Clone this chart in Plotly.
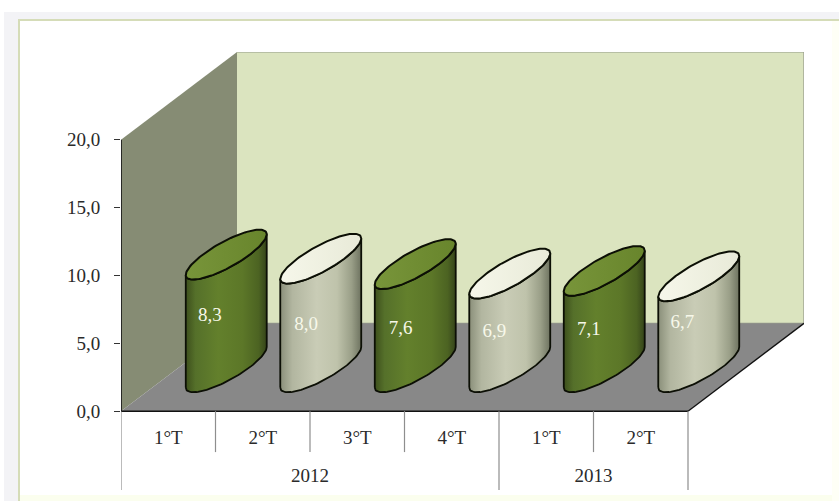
import numpy as np
import plotly.graph_objects as go

years = ["2012", "2012", "2012", "2012", "2013", "2013"]
quarters = ["1°T", "2°T", "3°T", "4°T", "1°T", "2°T"]
values = [8.3, 8.0, 7.6, 6.9, 7.1, 6.7]
y_ticks = [0, 5, 10, 15, 20]

W, H = 839, 501
PX_CAT, PX_VAL = 94.5, 13.6
DEPTH_X, DEPTH_Y = 116 / PX_CAT, 88 / PX_VAL
X_MIN, X_MAX = -0.5, 5.5
Y_MAX = 20
SHORT_DIV, LONG_DIV = -41 / PX_VAL, -79 / PX_VAL

# label placement (category offset, height on the value scale)
label_dx = [0.44, 0.46, 0.46, 0.45, 0.45, 0.44]
label_y = [6.98, 6.30, 6.05, 5.85, 6.0, 6.45]


def proj(cat, depth, val):
    return cat + np.asarray(depth) * DEPTH_X, val + np.asarray(depth) * DEPTH_Y


def poly(name, cats, depths, vals, fill, line=None, lw=0):
    xs, ys = [], []
    for c, d, v in zip(cats, depths, vals):
        a, b = proj(c, d, v)
        xs.append(float(a)); ys.append(float(b))
    return go.Scatter(x=xs, y=ys, mode="lines", fill="toself" if fill else None,
                      fillcolor=fill, line=dict(color=line or "rgba(0,0,0,0)", width=lw),
                      showlegend=False, hoverinfo="skip", name=name)


fig = go.Figure()
fig.add_trace(poly("back", [X_MIN, X_MAX, X_MAX, X_MIN], [1, 1, 1, 1], [0, 0, Y_MAX, Y_MAX], "#dbe4bf", "#94998a", 1.2))
fig.add_trace(poly("side", [X_MIN, X_MIN, X_MIN, X_MIN], [0, 1, 1, 0], [0, 0, Y_MAX, Y_MAX], "#868c74"))
fig.add_trace(poly("floor", [X_MIN, X_MAX, X_MAX, X_MIN], [0, 0, 1, 1], [0, 0, 0, 0], "#888888"))
fig.add_trace(poly("edge", [X_MAX, X_MAX], [0, 1], [0, 0], None, "#111111", 1.3))
fig.add_trace(poly("yline", [X_MIN, X_MIN], [0, 0], [0, Y_MAX], None, "#111111", 1.6))
fig.add_trace(poly("xline", [X_MIN, X_MAX], [0, 0], [0, 0], None, "#111111", 1.6))

# category dividers under the axis
year_change = [i for i in range(1, len(years)) if years[i] != years[i - 1]]
for k in range(len(quarters) + 1):
    long_div = k == 0 or k == len(quarters) or k in year_change
    fig.add_trace(go.Scatter(x=[k - 0.5, k - 0.5], y=[0, LONG_DIV if long_div else SHORT_DIV], mode="lines",
                             line=dict(color="#8e8e8e", width=1.2),
                             showlegend=False, hoverinfo="skip"))

A = 0.249  # half width along category direction
B = 0.284  # half width along depth direction
t_ext = np.arctan2(B * DEPTH_X, A)  # parameter of right-most point

green_body = [[0, "#3d4f1c"], [0.12, "#55702a"], [0.4, "#63802c"], [0.7, "#5c7728"], [0.9, "#4c6322"], [1, "#35441a"]]
gray_body = [[0, "#8a8f7a"], [0.15, "#b2b6a0"], [0.45, "#c9ccb6"], [0.7, "#bfc3ab"], [0.88, "#9a9f88"], [1, "#6e7360"]]
green_cap = [[0, "#78953a"], [1, "#68852c"]]
gray_cap = [[0, "#f6f7ea"], [1, "#e8ead8"]]

for i, v in enumerate(values):
    body, cap = (green_body, green_cap) if i % 2 == 0 else (gray_body, gray_cap)

    def ell(t, val):
        return proj(i + A * np.cos(t), 0.5 + B * np.sin(t), val)

    bx1, by1 = ell(t_ext + np.pi + np.linspace(0, np.pi, 60), 0)
    tx1, ty1 = ell(t_ext + np.pi + np.linspace(np.pi, 0, 60), v)
    fig.add_trace(go.Scatter(x=np.r_[bx1, tx1, bx1[:1]].tolist(), y=np.r_[by1, ty1, by1[:1]].tolist(),
                             mode="lines", fill="toself",
                             fillgradient=dict(type="horizontal", colorscale=body),
                             line=dict(color="#0c0f05", width=1.8),
                             showlegend=False, hoverinfo="skip"))
    cx, cy = ell(np.linspace(0, 2 * np.pi, 121), v)
    fig.add_trace(go.Scatter(x=cx.tolist(), y=cy.tolist(), mode="lines", fill="toself",
                             fillgradient=dict(type="horizontal", colorscale=cap),
                             line=dict(color="#0c0f05", width=2),
                             showlegend=False, hoverinfo="skip"))

fig.add_trace(go.Scatter(
    x=[i + d for i, d in enumerate(label_dx)], y=label_y, mode="text",
    text=[f"{v:.1f}".replace(".", ",") for v in values],
    textposition="middle center", cliponaxis=False,
    textfont=dict(family="Liberation Serif", size=19, color="#f7f8ea"),
    showlegend=False, hoverinfo="skip"))

x_dom = [121 / W, 804 / W]
y_dom = [1 - 492 / H, 1 - 52 / H]
x_range = [X_MIN, X_MAX + DEPTH_X]
y_range = [-81 / PX_VAL, Y_MAX + DEPTH_Y]

# centres of the year groups
year_names = list(dict.fromkeys(years))
year_pos = [float(np.mean([i for i, y in enumerate(years) if y == n])) for n in year_names]

FONT = dict(family="Liberation Serif", size=19, color="#2a2a2a")


def band(x0, x1, y0, y1, color):
    return dict(type="rect", xref="paper", yref="paper", x0=x0 / W, x1=x1 / W, y0=1 - y1 / H, y1=1 - y0 / H,
                fillcolor=color, line=dict(width=0), layer="below")


fig.update_layout(
    width=W, height=H, autosize=False, margin=dict(l=0, r=0, t=0, b=0),
    paper_bgcolor="#ffffff", plot_bgcolor="rgba(0,0,0,0)", separators=",.",
    font=FONT, showlegend=False,
    xaxis=dict(domain=x_dom, range=x_range, anchor="free", position=1 - 411 / H, side="bottom",
               tickmode="array", tickvals=list(range(len(quarters))),
               ticktext=quarters, ticks="", showline=False, showgrid=False, zeroline=False,
               ticklabelstandoff=13, tickfont=FONT, automargin=False),
    xaxis2=dict(domain=x_dom, range=x_range, overlaying="x", anchor="free", position=1 - 462 / H, side="bottom",
                tickmode="array", tickvals=year_pos, ticktext=year_names, ticks="", showline=False,
                showgrid=False, zeroline=False, tickfont=FONT, automargin=False),
    yaxis=dict(domain=y_dom, range=y_range, tickvals=y_ticks, tickformat=".1f", ticks="outside", ticklen=6,
               tickcolor="#333333", tickwidth=1, showgrid=False, zeroline=False, showline=False,
               ticklabelstandoff=10, tickfont=FONT, automargin=False),
    shapes=[
        band(4, 839, 12, 19, "#f3f3f6"),
        band(4, 18, 12, 501, "#f3f3f6"),
        band(18, 839, 19, 21, "#d5dcb8"),
        band(18, 20, 19, 501, "#d5dcb8"),
        band(20, 839, 495, 501, "#fbfeee"),
        band(832, 839, 21, 501, "#fefff6"),
    ],
)
# xaxis2 needs a trace to be drawn
fig.add_trace(go.Scatter(x=year_pos, y=[0 for _ in year_pos], xaxis="x2", mode="markers", marker=dict(opacity=0),
                         showlegend=False, hoverinfo="skip"))
fig.write_html("out.html", config={"displayModeBar": False},
               post_script="document.body.style.margin='0';window.dispatchEvent(new Event('resize'));")
